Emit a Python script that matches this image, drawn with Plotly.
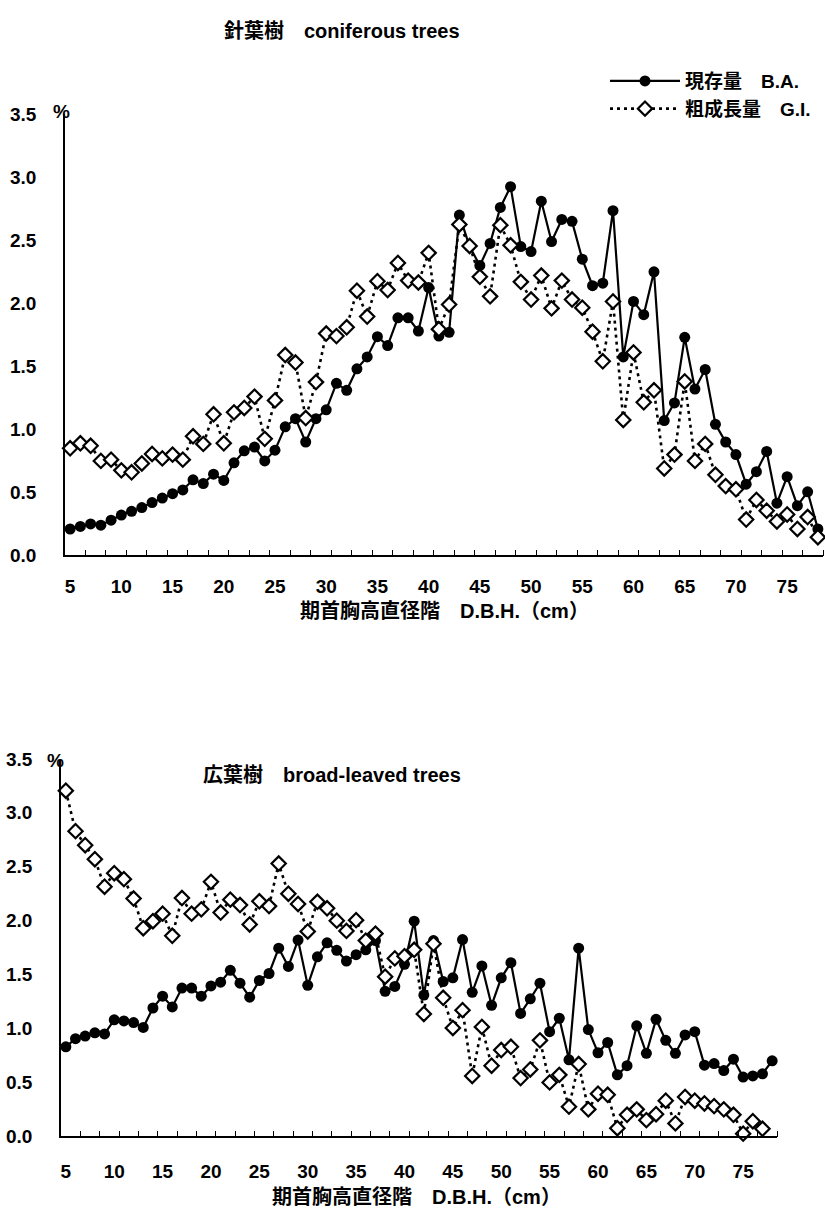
import plotly.graph_objects as go

W, H = 825, 1223

# ---------------- data ----------------
dbh = list(range(5, 79))           # diameter classes 5..78 cm

con_ba = [0.21, 0.23, 0.25, 0.24, 0.28, 0.32, 0.35, 0.38, 0.42, 0.455,
          0.49, 0.52, 0.60, 0.57, 0.645, 0.595, 0.735, 0.83, 0.86, 0.75,
          0.835, 1.02, 1.085, 0.90, 1.085, 1.155, 1.365, 1.31, 1.48, 1.575,
          1.735, 1.665, 1.885, 1.885, 1.78, 2.125, 1.74, 1.77, 2.70, 2.45,
          2.30, 2.475, 2.76, 2.925, 2.45, 2.41, 2.81, 2.49, 2.665, 2.65,
          2.35, 2.14, 2.16, 2.735, 1.575, 2.015, 1.91, 2.25, 1.07, 1.21,
          1.73, 1.32, 1.475, 1.04, 0.90, 0.80, 0.565, 0.665, 0.825, 0.415,
          0.625, 0.395, 0.505, 0.21]

con_gi = [0.85, 0.89, 0.87, 0.75, 0.76, 0.675, 0.66, 0.73, 0.805, 0.77,
          0.80, 0.76, 0.945, 0.885, 1.12, 0.89, 1.135, 1.17, 1.26, 0.925,
          1.23, 1.59, 1.53, 1.09, 1.375, 1.76, 1.74, 1.81, 2.10, 1.895,
          2.175, 2.105, 2.32, 2.18, 2.165, 2.40, 1.795, 1.99, 2.625, 2.455,
          2.21, 2.055, 2.62, 2.46, 2.17, 2.03, 2.22, 1.96, 2.18, 2.03,
          1.965, 1.775, 1.54, 2.015, 1.075, 1.61, 1.215, 1.31, 0.69, 0.80,
          1.38, 0.75, 0.885, 0.64, 0.55, 0.525, 0.285, 0.44, 0.355, 0.27,
          0.325, 0.21, 0.305, 0.145]

brd_ba = [0.83, 0.905, 0.93, 0.96, 0.95, 1.08, 1.07, 1.055, 1.01, 1.19,
          1.30, 1.20, 1.375, 1.375, 1.30, 1.395, 1.43, 1.54, 1.42, 1.29,
          1.445, 1.51, 1.745, 1.575, 1.82, 1.40, 1.665, 1.795, 1.725, 1.625,
          1.685, 1.73, 1.815, 1.345, 1.39, 1.595, 1.995, 1.31, 1.815, 1.435,
          1.47, 1.825, 1.335, 1.58, 1.215, 1.47, 1.61, 1.14, 1.275, 1.42,
          0.97, 1.095, 0.71, 1.745, 0.99, 0.775, 0.87, 0.57, 0.655, 1.025,
          0.77, 1.085, 0.89, 0.77, 0.94, 0.97, 0.66, 0.675, 0.61, 0.715,
          0.55, 0.56, 0.58, 0.70]

brd_gi = [3.205, 2.83, 2.70, 2.57, 2.315, 2.44, 2.385, 2.205, 1.93, 1.995,
          2.065, 1.86, 2.21, 2.065, 2.105, 2.36, 2.075, 2.195, 2.145, 1.965,
          2.18, 2.135, 2.53, 2.25, 2.155, 1.90, 2.175, 2.115, 2.00, 1.905,
          2.005, 1.815, 1.88, 1.48, 1.65, 1.67, 1.73, 1.135, 1.785, 1.285,
          1.005, 1.17, 0.56, 1.015, 0.655, 0.80, 0.83, 0.54, 0.62, 0.89,
          0.50, 0.57, 0.275, 0.67, 0.25, 0.395, 0.385, 0.075, 0.20, 0.25,
          0.15, 0.205, 0.33, 0.12, 0.365, 0.33, 0.305, 0.28, 0.25, 0.20,
          0.025, 0.14, 0.07]

y_ticks = [0.0, 0.5, 1.0, 1.5, 2.0, 2.5, 3.0, 3.5]
x_labels = [5, 10, 15, 20, 25, 30, 35, 40, 45, 50, 55, 60, 65, 70, 75]
x_minor = [v + 0.5 for v in range(6, 79, 2)]

name_ba = "現存量\u3000B.A."
name_gi = "粗成長量\u3000G.I."

# ---------------- styling ----------------
FONT = "Liberation Sans, Noto Sans CJK JP, sans-serif"
BLACK = "#000000"
CLEAR = "rgba(0,0,0,0)"

fig = go.Figure()

def add_pair(xa, ya, ba, gi, show):
    fig.add_trace(go.Scatter(
        x=dbh[:len(ba)], y=ba, mode="lines+markers", name=name_ba,
        xaxis=xa, yaxis=ya, showlegend=show,
        line=dict(color=BLACK, width=2.2),
        marker=dict(symbol="circle", size=11, color=BLACK),
        cliponaxis=False))
    fig.add_trace(go.Scatter(
        x=dbh[:len(gi)], y=gi, mode="lines+markers", name=name_gi,
        xaxis=xa, yaxis=ya, showlegend=show,
        line=dict(color=BLACK, width=2.6, dash="3px,4px"),
        marker=dict(symbol="diamond", size=11, color="white",
                    line=dict(color=BLACK, width=2.2)),
        cliponaxis=False))

add_pair("x", "y", con_ba, con_gi, True)
add_pair("x2", "y2", brd_ba, brd_gi, False)

TICKFONT = dict(family=FONT, size=19, color=BLACK, weight="bold")

def xaxis_cfg(domain, anchor, gap):
    return dict(
        domain=domain, range=[4.5, 78.5], anchor=anchor,
        tickmode="array", tickvals=x_labels, ticktext=[str(v) for v in x_labels],
        ticks="outside", ticklen=gap, tickcolor=CLEAR,
        showgrid=False, zeroline=False,
        showline=True, linecolor=BLACK, linewidth=1.6,
        tickfont=TICKFONT,
        minor=dict(tickmode="array", tickvals=x_minor, ticks="inside",
                   ticklen=6, tickwidth=1.3, tickcolor=BLACK, showgrid=False),
    )

def yaxis_cfg(domain, anchor):
    return dict(
        domain=domain, range=[0, 3.5], anchor=anchor,
        tickmode="array", tickvals=y_ticks, tickformat=".1f",
        ticks="outside", ticklen=23, tickcolor=CLEAR,
        showgrid=False, zeroline=False,
        showline=True, linecolor=BLACK, linewidth=1.6,
        tickfont=TICKFONT,
    )

xa1 = xaxis_cfg([65 / W, 823 / W], "y", 13)
ya1 = yaxis_cfg([1 - 555 / H, 1 - 106 / H], "x")
xa2 = xaxis_cfg([61 / W, 777 / W], "y2", 17)
ya2 = yaxis_cfg([1 - 1146 / H, 1 - 762 / H], "x2")

def ann(text, x, y, size=20):
    return dict(text=text, x=x / W, y=1 - y / H, xref="paper", yref="paper",
                showarrow=False, xanchor="center", yanchor="middle",
                font=dict(family=FONT, size=size, color=BLACK, weight="bold"))

annotations = [
    ann("針葉樹\u3000coniferous trees", 342, 21, 20),
    ann("広葉樹\u3000broad-leaved trees", 332, 778, 20),
    ann("%", 61, 103, 19),
    ann("%", 55, 764, 19),
    ann("期首胸高直径階\u3000D.B.H.（cm）", 444, 612, 20),
    ann("期首胸高直径階\u3000D.B.H.（cm）", 416, 1208, 20),
]

fig.update_layout(
    width=W, height=H, margin=dict(l=0, r=0, t=0, b=0),
    paper_bgcolor="white", plot_bgcolor="white",
    xaxis=xa1, yaxis=ya1, xaxis2=xa2, yaxis2=ya2,
    annotations=annotations,
    showlegend=True,
    legend=dict(x=605 / W, y=1 - 53 / H, xanchor="left", yanchor="top",
                bgcolor=CLEAR, tracegroupgap=0, itemwidth=70,
                font=dict(family=FONT, size=19, color=BLACK, weight="bold")),
)

fig.write_html("out.html")
